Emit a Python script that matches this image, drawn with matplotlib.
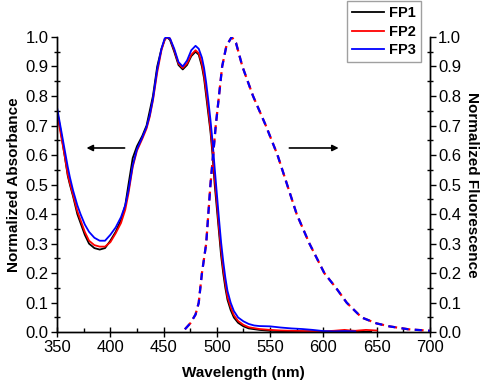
import matplotlib
matplotlib.use("Agg")
import matplotlib.pyplot as plt
from matplotlib.ticker import MultipleLocator

plt.rcParams['font.family'] = ['Liberation Sans', 'DejaVu Sans']

# Absorbance data
wl_fp1 = [350, 353, 357, 360, 362, 365, 369, 372, 376, 380, 385, 390, 395, 400, 405, 410, 414, 417, 421, 425,
          430, 434, 437, 440, 444, 448, 451, 453, 456, 460, 464, 468, 472, 476, 480, 483, 486, 488, 490, 492,
          494, 496, 498, 500, 502, 504, 506, 508, 510, 513, 516, 520, 525, 530, 540, 550, 560, 580, 600, 620, 645]
abs_fp1 = [0.75, 0.69, 0.60, 0.53, 0.50, 0.46, 0.40, 0.37, 0.33, 0.30, 0.285, 0.28, 0.285, 0.31, 0.34, 0.38, 0.43, 0.50, 0.59, 0.63,
           0.665, 0.70, 0.75, 0.80, 0.90, 0.96, 0.99, 1.0, 0.99, 0.95, 0.905, 0.89, 0.905, 0.935, 0.95, 0.94, 0.90, 0.86, 0.80, 0.74,
           0.68, 0.60, 0.50, 0.42, 0.34, 0.26, 0.20, 0.15, 0.11, 0.075, 0.05, 0.032, 0.02, 0.013, 0.008, 0.005, 0.004, 0.003, 0.002, 0.002, 0.002]

wl_fp2 = [350, 353, 357, 360, 362, 365, 369, 372, 376, 380, 385, 390, 395, 400, 405, 410, 414, 417, 421, 425,
          430, 434, 437, 440, 444, 448, 451, 453, 456, 460, 464, 468, 472, 476, 480, 483, 486, 488, 490, 492,
          494, 496, 498, 500, 502, 504, 506, 508, 510, 513, 516, 520, 525, 530, 540, 550, 560, 580, 600, 610,
          620, 625, 630, 640, 650]
abs_fp2 = [0.74, 0.68, 0.60, 0.535, 0.505, 0.465, 0.41, 0.38, 0.34, 0.31, 0.295, 0.29, 0.29, 0.305, 0.335, 0.37, 0.415, 0.47, 0.56, 0.615,
           0.655, 0.69, 0.73, 0.785, 0.88, 0.955, 0.99, 1.0, 0.995, 0.955, 0.91, 0.895, 0.91, 0.94, 0.955, 0.945, 0.91, 0.87, 0.815, 0.755,
           0.69, 0.615, 0.52, 0.44, 0.355, 0.28, 0.215, 0.165, 0.12, 0.085, 0.058, 0.038, 0.025, 0.017, 0.011, 0.008, 0.006, 0.004, 0.003, 0.005,
           0.008, 0.006, 0.005, 0.008, 0.006]

wl_fp3 = [350, 353, 357, 360, 362, 365, 369, 372, 376, 380, 385, 390, 395, 400, 405, 410, 414, 417, 421, 425,
          430, 434, 437, 440, 444, 448, 451, 453, 456, 460, 464, 468, 472, 476, 480, 483, 486, 488, 490, 492,
          494, 496, 498, 500, 502, 504, 506, 508, 510, 513, 516, 520, 525, 530, 535, 540, 550, 560, 570, 580,
          590, 600, 610, 620, 630]
abs_fp3 = [0.76, 0.70, 0.62, 0.56, 0.525, 0.48, 0.43, 0.40, 0.365, 0.34, 0.32, 0.31, 0.31, 0.33, 0.355, 0.39, 0.43, 0.48, 0.565, 0.62,
           0.66, 0.695, 0.735, 0.79, 0.89, 0.96, 0.995, 1.0, 0.995, 0.96, 0.915, 0.90, 0.92, 0.955, 0.97, 0.96, 0.93, 0.895, 0.845, 0.785,
           0.72, 0.645, 0.555, 0.47, 0.385, 0.305, 0.24, 0.185, 0.14, 0.10, 0.072, 0.05, 0.037, 0.028, 0.023, 0.021, 0.02, 0.016, 0.013, 0.011,
           0.008, 0.004, 0.003, 0.004, 0.003]

# Fluorescence data
wl_fl = [470, 475, 480, 483, 486, 490, 494, 499, 505, 509, 514, 518, 524, 534, 546, 557, 566, 575, 587, 601,
         612, 622, 636, 650, 662, 680, 700]
fl = [0.01, 0.03, 0.06, 0.10, 0.20, 0.30, 0.50, 0.70, 0.90, 0.97, 1.0, 0.98, 0.90, 0.80, 0.70, 0.60, 0.50, 0.40, 0.30, 0.20,
      0.15, 0.10, 0.05, 0.03, 0.02, 0.01, 0.005]

labels = ['FP1', 'FP2', 'FP3']
colors = ['black', 'red', 'blue']

fig = plt.figure(figsize=(4.84, 3.85), dpi=100)
ax = fig.add_axes([0.118, 0.137, 0.770, 0.767])
ax2 = ax.twinx()

lines = []
for wl, a, c, lab in zip([wl_fp1, wl_fp2, wl_fp3], [abs_fp1, abs_fp2, abs_fp3], colors, labels):
    l, = ax.plot(wl, a, color=c, lw=1.3, label=lab)
    lines.append(l)

ax2.plot(wl_fl, fl, color='red', lw=1.6, dashes=(4, 2))
ax2.plot(wl_fl, fl, color='blue', lw=1.6, dashes=(3.2, 2.8), dash_capstyle='butt')

for a in (ax, ax2):
    a.set_xlim(350, 700)
    a.set_ylim(0, 1.0)
    a.spines['top'].set_visible(False)
    a.yaxis.set_major_locator(MultipleLocator(0.1))
    a.yaxis.set_minor_locator(MultipleLocator(0.05))
    a.tick_params(axis='y', which='major', direction='out', length=4, width=1, labelsize=12, pad=2)
    a.tick_params(axis='y', which='minor', direction='inout', length=4, width=1)
    for s in a.spines.values():
        s.set_linewidth(1)

ax.xaxis.set_major_locator(MultipleLocator(50))
ax.xaxis.set_minor_locator(MultipleLocator(25))
ax.tick_params(axis='x', which='major', direction='inout', length=7, width=1, labelsize=12, pad=2)
ax.tick_params(axis='x', which='minor', direction='in', length=3, width=1)
ax.yaxis.set_major_formatter(plt.FormatStrFormatter('%.1f'))
ax2.yaxis.set_major_formatter(plt.FormatStrFormatter('%.1f'))

ax.set_xlabel('Wavelength (nm)', fontsize=11, fontweight='bold', labelpad=8)
ax.set_ylabel('Normalized Absorbance', fontsize=11, fontweight='bold', labelpad=3)
ax2.set_ylabel('Normalized Fluorescence', fontsize=11, fontweight='bold', rotation=270, labelpad=13)

ax.annotate('', xy=(375, 0.624), xytext=(416, 0.624),
            arrowprops=dict(arrowstyle='-|>', color='black', lw=1.2, mutation_scale=9))
ax.annotate('', xy=(617, 0.624), xytext=(565.5, 0.624),
            arrowprops=dict(arrowstyle='-|>', color='black', lw=1.2, mutation_scale=9))

leg = fig.legend(handles=lines, labels=labels, loc='upper left', bbox_to_anchor=(0.717, 0.997),
                 frameon=True, fancybox=False, edgecolor='#888888', handlelength=2.2,
                 handletextpad=0.3, labelspacing=0.3, borderpad=0.35, borderaxespad=0,
                 prop={'weight': 'bold', 'size': 10.5})
leg.get_frame().set_linewidth(1)

fig.savefig('out.png', dpi=100)
